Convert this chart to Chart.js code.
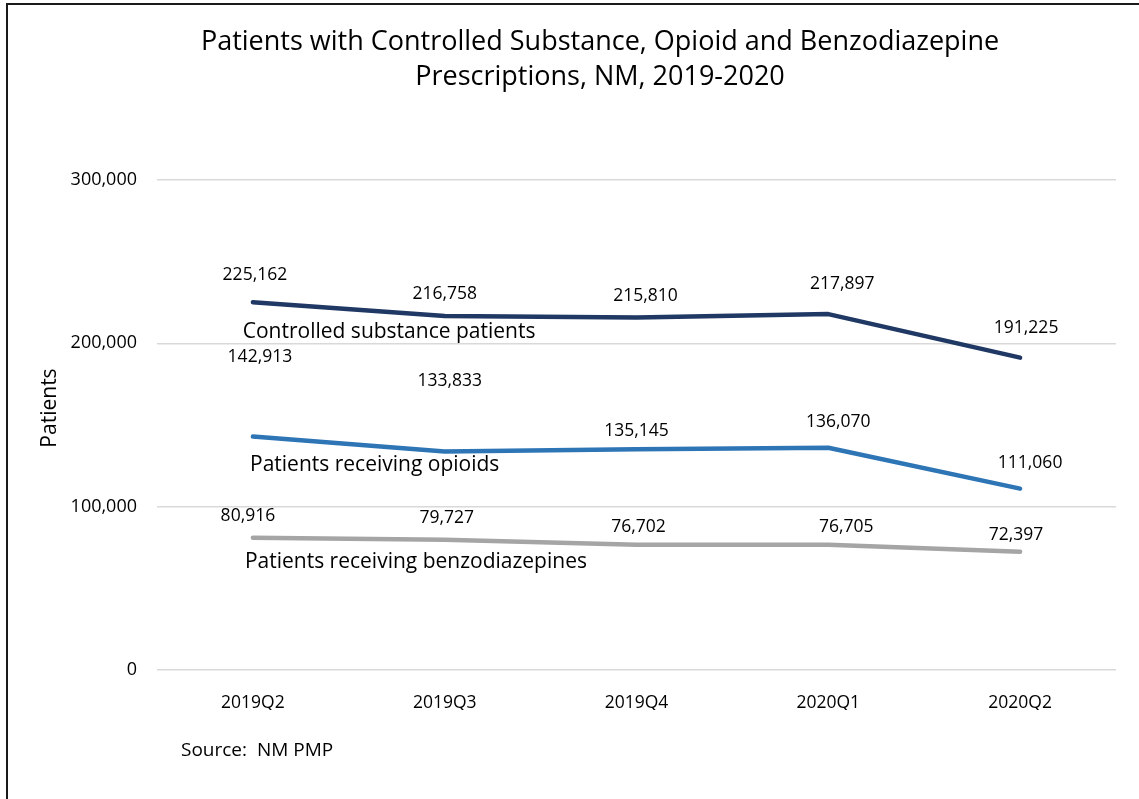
<!DOCTYPE html>
<html>
<head>
<meta charset="utf-8">
<script src="https://cdn.jsdelivr.net/npm/chart.js@4/dist/chart.umd.min.js"></script>
<style>
    html, body { margin: 0; padding: 0; background: #fff; overflow: hidden; }
    #wrap { position: absolute; left: 0; top: 0; width: 1139px; height: 799px; }
    #frame { position: absolute; left: 6px; top: 3px; width: 1200px; height: 850px; border: 2px solid #1a1a1a; pointer-events: none; }
</style>
</head>
<body>
<div id="wrap">
    <canvas id="chart" width="1139" height="799"></canvas>
    <div id="frame"></div>
</div>
<script>
const quarters = ['2019Q2', '2019Q3', '2019Q4', '2020Q1', '2020Q2'];
const controlled = [225162, 216758, 215810, 217897, 191225];
const opioids = [142913, 133833, 135145, 136070, 111060];
const benzos = [80916, 79727, 76702, 76705, 72397];
const yTicks = [0, 100000, 200000, 300000];

// where each value label sits relative to its point (px): up and sideways
const labelLift = [
    [27, 22, 21, 30, 30],
    [80, 70, 18, 26, 26],
    [22, 22, 18, 18, 17]
];
const labelShift = [
    [2, 0, 9, 14, 6],
    [7, 5, 0, 10, 10],
    [-5, 2, 2, 18, -4]
];

// series names drawn inside the plot, at (category index, value)
const seriesNames = [
    { text: 'Controlled substance patients', at: 0.71, value: 207000 },
    { text: 'Patients receiving opioids', at: 0.635, value: 125500 },
    { text: 'Patients receiving benzodiazepines', at: 0.85, value: 66000 }
];

const fontFamily = "'Open Sans', 'Noto Sans', sans-serif";
const fmt = (v) => v.toLocaleString('en-US');

const annotations = {
    id: 'annotations',
    afterDatasetsDraw(chart) {
        const { ctx, chartArea, scales: { x, y } } = chart;
        ctx.save();
        ctx.fillStyle = '#000';
        ctx.textAlign = 'center';
        ctx.textBaseline = 'middle';

        ctx.font = `17.5px ${fontFamily}`;
        chart.data.datasets.forEach((ds, di) => {
            chart.getDatasetMeta(di).data.forEach((pt, i) => {
                ctx.fillText(fmt(ds.data[i]), pt.x + labelShift[di][i], pt.y - labelLift[di][i]);
            });
        });

        ctx.font = `21px ${fontFamily}`;
        seriesNames.forEach((s) => {
            const px = x.getPixelForValue(0) + s.at * (x.getPixelForValue(1) - x.getPixelForValue(0));
            ctx.fillText(s.text, px, y.getPixelForValue(s.value));
        });

        ctx.font = `27px ${fontFamily}`;
        ctx.fillText('Patients with Controlled Substance, Opioid and Benzodiazepine', 600, 42);
        ctx.fillText('Prescriptions, NM, 2019-2020', 600, 77);

        // y axis title
        ctx.save();
        ctx.translate(50, (chartArea.top + chartArea.bottom) / 2 - 17);
        ctx.rotate(-Math.PI / 2);
        ctx.font = `21px ${fontFamily}`;
        ctx.fillText('Patients', 0, 0);
        ctx.restore();

        ctx.textAlign = 'left';
        ctx.font = `19px ${fontFamily}`;
        ctx.fillText('Source:  NM PMP', 181, 751);
        ctx.restore();
    }
};

const line = (data, color) => ({
    data,
    borderColor: color,
    backgroundColor: color,
    borderWidth: 4.5,
    pointRadius: 0,
    tension: 0,
    borderJoinStyle: 'round',
    borderCapStyle: 'round',
    fill: false
});

new Chart(document.getElementById('chart').getContext('2d'), {
    type: 'line',
    data: {
        labels: quarters,
        datasets: [
            line(controlled, '#203864'),
            line(opioids, '#2E75B6'),
            line(benzos, '#A5A5A5')
        ]
    },
    options: {
        responsive: false,
        animation: false,
        layout: { padding: { left: 0, top: 180, right: 23, bottom: 89 } },
        plugins: {
            legend: { display: false },
            tooltip: { enabled: false }
        },
        scales: {
            x: {
                offset: true,
                grid: { display: false },
                border: { display: false },
                ticks: { color: '#000', padding: 15, font: { family: fontFamily, size: 17.5 } },
                afterFit: (s) => { s.height = 40; }
            },
            y: {
                min: 0,
                max: 300000,
                afterBuildTicks: (s) => { s.ticks = yTicks.map((v) => ({ value: v })); },
                grid: { color: '#d9d9d9', lineWidth: 1.5, drawTicks: false },
                border: { display: false },
                ticks: {
                    color: '#000',
                    padding: 20,
                    font: { family: fontFamily, size: 18 },
                    callback: (v) => fmt(v)
                },
                afterFit: (s) => { s.width = 157; }
            }
        }
    },
    plugins: [annotations]
});
</script>
</body>
</html>
